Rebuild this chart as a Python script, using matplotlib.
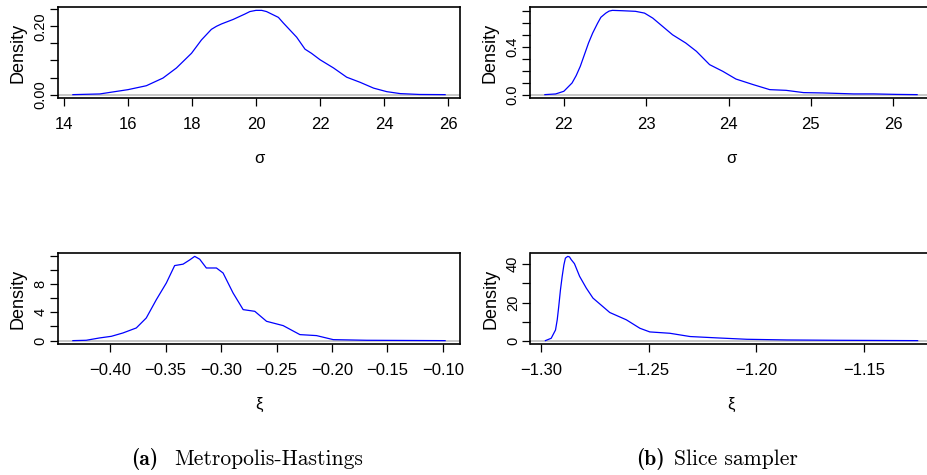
import matplotlib
matplotlib.use("Agg")
import matplotlib.pyplot as plt

# sigma, Metropolis-Hastings
mh_sigma_x = [14.29, 15.13, 16.01, 16.58, 17.10, 17.52, 17.99, 18.30, 18.46, 18.61,
              18.77, 18.93, 19.29, 19.66, 19.81, 20.00, 20.18, 20.33, 20.70, 20.85,
              21.06, 21.27, 21.53, 21.73, 22.00, 22.42, 22.83, 23.25, 23.67, 24.08,
              24.50, 25.10, 25.90]
mh_sigma_y = [0.0, 0.002, 0.0146, 0.026, 0.0485, 0.078, 0.121, 0.160, 0.176, 0.191,
              0.200, 0.207, 0.220, 0.236, 0.243, 0.2465, 0.2465, 0.243, 0.226, 0.210,
              0.189, 0.168, 0.133, 0.121, 0.102, 0.078, 0.051, 0.036, 0.019, 0.0087,
              0.003, 0.0005, 0.0]

# sigma, slice sampler
ss_sigma_x = [21.77, 21.90, 22.00, 22.10, 22.15, 22.20, 22.25, 22.30, 22.35, 22.41,
              22.45, 22.51, 22.55, 22.59, 22.71, 22.87, 22.98, 23.08, 23.20, 23.32,
              23.48, 23.61, 23.77, 23.93, 24.09, 24.30, 24.50, 24.70, 24.91, 25.15,
              25.52, 25.76, 26.04, 26.29]
ss_sigma_y = [0.0, 0.0056, 0.028, 0.098, 0.160, 0.238, 0.336, 0.434, 0.517, 0.600,
              0.650, 0.685, 0.702, 0.708, 0.705, 0.700, 0.685, 0.643, 0.573, 0.503,
              0.434, 0.364, 0.252, 0.196, 0.131, 0.084, 0.042, 0.036, 0.017, 0.014,
              0.006, 0.006, 0.002, 0.0]

# xi, Metropolis-Hastings
mh_xi_x = [-0.4337, -0.4217, -0.4096, -0.3990, -0.3886, -0.3765, -0.3675, -0.3584,
           -0.3494, -0.3419, -0.3343, -0.3283, -0.3238, -0.3193, -0.3133, -0.3042,
           -0.2982, -0.2892, -0.2801, -0.2696, -0.2590, -0.2440, -0.2289, -0.2139,
           -0.1988, -0.1687, -0.0979]
mh_xi_y = [0.0, 0.05, 0.38, 0.61, 1.08, 1.79, 3.2, 5.79, 8.14, 10.6, 10.8, 11.4, 11.9,
           11.5, 10.26, 10.26, 9.55, 6.73, 4.38, 4.14, 2.73, 2.12, 0.85, 0.71, 0.14,
           0.05, 0.0]

# xi, slice sampler
ss_xi_x = [-1.2980, -1.2953, -1.2933, -1.2925, -1.2918, -1.2910, -1.2902, -1.2894,
           -1.2887, -1.2876, -1.2868, -1.2860, -1.2845, -1.2821, -1.2790, -1.2759,
           -1.2681, -1.2604, -1.2541, -1.2495, -1.2402, -1.2308, -1.2184, -1.2044,
           -1.1857, -1.1624, -1.1251]
ss_xi_y = [0.17, 1.4, 5.7, 11.0, 17.9, 26.6, 33.6, 39.6, 43.1, 44.0, 43.7, 42.3, 40.2,
           33.6, 27.5, 22.3, 14.8, 11.0, 6.6, 4.7, 4.0, 2.3, 1.6, 0.87, 0.52, 0.35, 0.17]

panels = [
    dict(x=mh_sigma_x, y=mh_sigma_y, xlab="σ",
         xticks=[14, 16, 18, 20, 22, 24, 26], xticklabels=["14", "16", "18", "20", "22", "24", "26"],
         yticks=[0, 0.05, 0.10, 0.15, 0.20, 0.25], yticklabels=["0.00", "", "", "", "0.20", ""]),
    dict(x=ss_sigma_x, y=ss_sigma_y, xlab="σ",
         xticks=[22, 23, 24, 25, 26], xticklabels=["22", "23", "24", "25", "26"],
         yticks=[0, 0.1, 0.2, 0.3, 0.4, 0.5, 0.6, 0.7], yticklabels=["0.0", "", "", "", "0.4", "", "", ""]),
    dict(x=mh_xi_x, y=mh_xi_y, xlab="ξ",
         xticks=[-0.40, -0.35, -0.30, -0.25, -0.20, -0.15, -0.10],
         xticklabels=["\u22120.40", "\u22120.35", "\u22120.30", "\u22120.25", "\u22120.20", "\u22120.15", "\u22120.10"],
         yticks=[0, 2, 4, 6, 8, 10, 12], yticklabels=["0", "", "4", "", "8", "", ""]),
    dict(x=ss_xi_x, y=ss_xi_y, xlab="ξ",
         xticks=[-1.30, -1.25, -1.20, -1.15],
         xticklabels=["\u22121.30", "\u22121.25", "\u22121.20", "\u22121.15"],
         yticks=[0, 10, 20, 30, 40], yticklabels=["0", "", "20", "", "40"]),
]

W, H = 928, 475
boxes = [(58, 7), (530, 7), (58, 253), (530.5, 253)]  # left, top in px
AW, AH = 402, 91

SANS = ["Liberation Sans", "DejaVu Sans"]

fig = plt.figure(figsize=(W / 100, H / 100), dpi=100)

for (left, top), p in zip(boxes, panels):
    ax = fig.add_axes([left / W, 1 - (top + AH) / H, AW / W, AH / H])
    x, y = p["x"], p["y"]
    # R-style 4% padding around the data range
    xr = max(x) - min(x)
    yr = max(y) - min(y)
    ax.set_xlim(min(x) - 0.04 * xr, max(x) + 0.04 * xr)
    ax.set_ylim(min(y) - 0.04 * yr, max(y) + 0.04 * yr)
    ax.axhline(0, color="#bebebe", lw=1.2, zorder=1)
    ax.plot(x, y, color="#0000ff", lw=0.9, zorder=2, solid_joinstyle="round")

    ax.set_xticks(p["xticks"])
    ax.set_xticklabels(p["xticklabels"], family=SANS, fontsize=12)
    ax.set_yticks(p["yticks"])
    ax.set_yticklabels(p["yticklabels"], family=SANS, fontsize=10.5,
                       rotation=90, va="center")
    ax.tick_params(axis="x", direction="out", length=5.5, width=0.9, pad=8)
    ax.tick_params(axis="y", direction="out", length=5.5, width=0.9, pad=2)
    for s in ax.spines.values():
        s.set_linewidth(1.2)
    ax.set_ylabel("Density", family=SANS, fontsize=13, labelpad=5)
    ax.set_xlabel(p["xlab"], family=SANS, fontsize=12, labelpad=14)

# sub-figure captions (LaTeX-like Computer Modern)
cap_y = 1 - 465 / H
fig.text(131 / W, cap_y, "(a)", family="cmb10", fontsize=15.5, ha="left", va="baseline")
fig.text(174 / W, cap_y, "Metropolis-Hastings", family="cmr10", fontsize=15.5,
         ha="left", va="baseline")
fig.text(636 / W, cap_y, "(b)", family="cmb10", fontsize=15.5, ha="left", va="baseline")
fig.text(674 / W, cap_y, "Slice sampler", family="cmr10", fontsize=15.5,
         ha="left", va="baseline")

fig.savefig("out.png", dpi=100)
